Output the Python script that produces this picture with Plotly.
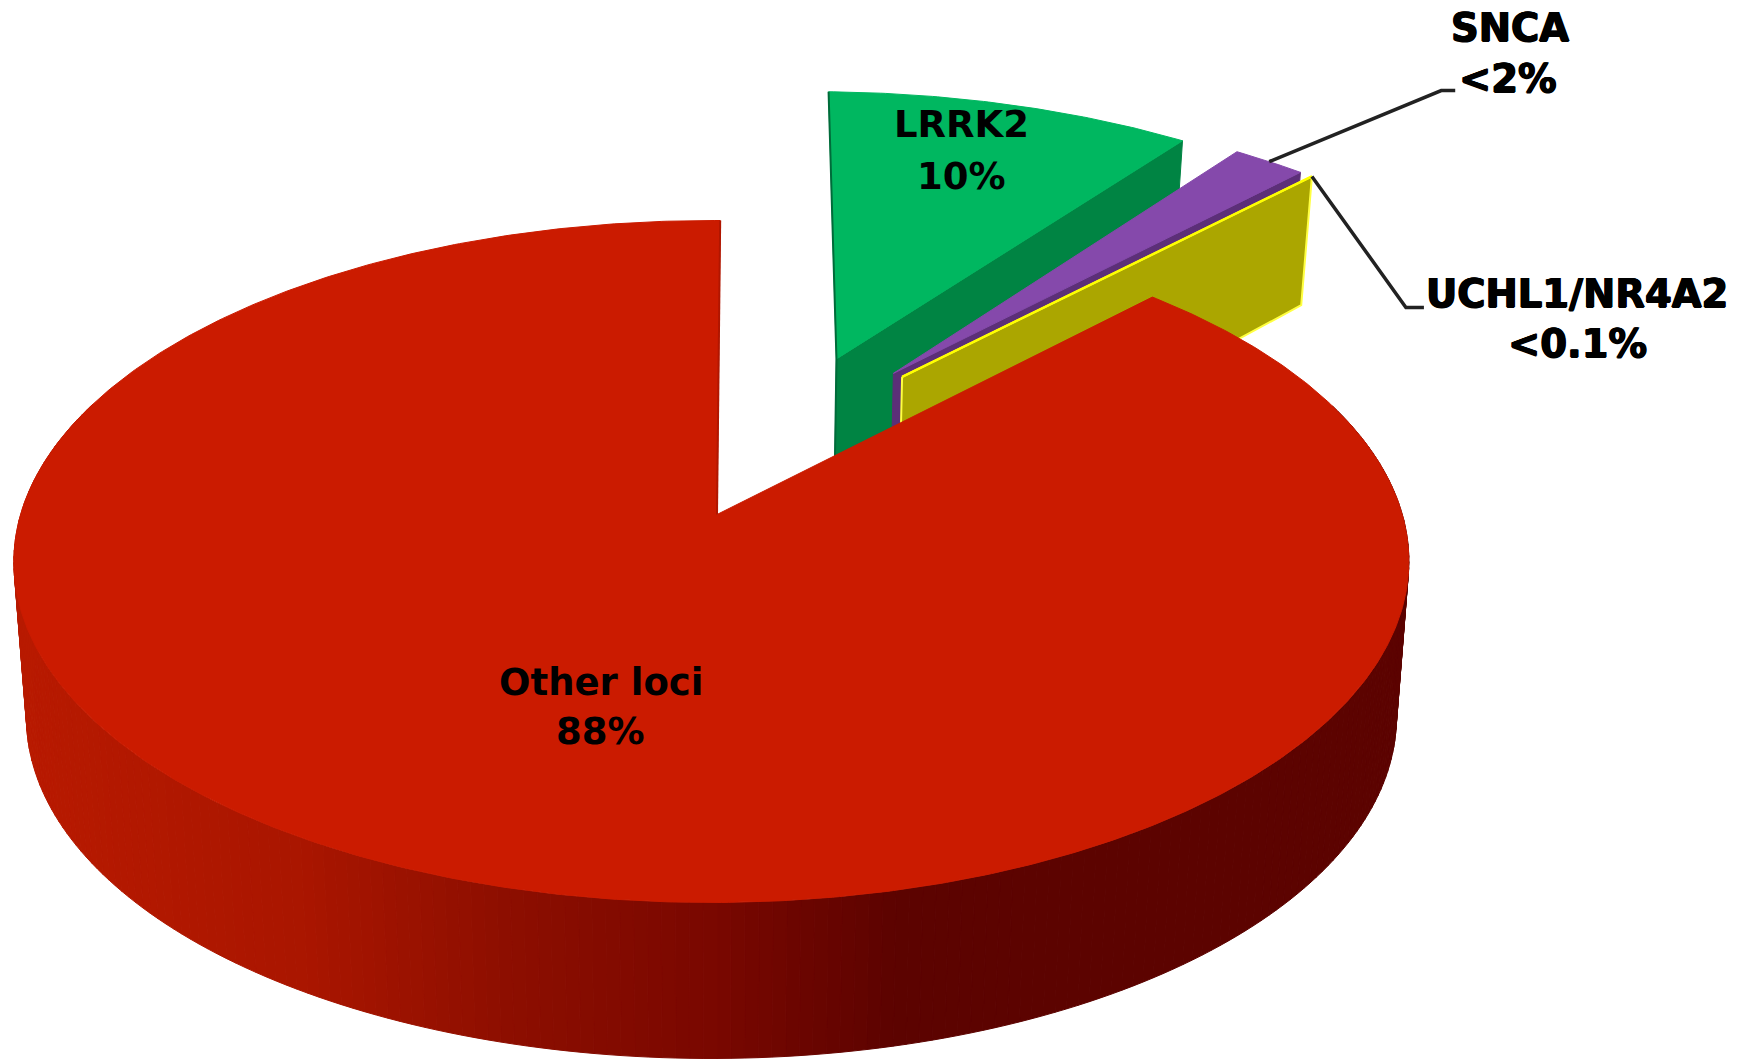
import math
import plotly.graph_objects as go

# ---- data ----
gene_labels = ["LRRK2", "SNCA", "UCHL1/NR4A2", "Other loci"]
percent_values = [10, 2, 0.1, 88]
percent_labels = ["10%", "<2%", "<0.1%", "88%"]

# ---- styles ----
top_colors = ["#00B760", "#8549AB", "#FFFF00", "#CB1B00"]
wall_colors = ["#008443", "#5C2F78", "#ABA600", "#B01600"]
slice_radius = [1.035, 1.04, 1.04, 1.0]
wall_stops_x = [28, 300, 500, 712, 900, 1400]
wall_stops_rgb = [(184, 26, 0), (170, 22, 0), (142, 15, 0), (122, 8, 0), (92, 3, 0), (92, 3, 0)]
label_pos = {  # centre of each text line, in page pixels
    "LRRK2": (961, 124), "10%": (961, 176),
    "SNCA": (1510, 27), "<2%": (1508, 78),
    "UCHL1/NR4A2": (1577, 293), "<0.1%": (1577, 343),
    "Other loci": (601, 682), "88%": (600, 731),
}
FONT = "DejaVu Sans"
FONT_SIZE = 37
CALLOUT_SIZE = 38.5
THICK = "0.7px 0 0 #000, -0.7px 0 0 #000, 0 0.5px 0 #000, 0 -0.5px 0 #000"
callout_texts = ["SNCA", "<2%", "UCHL1/NR4A2", "<0.1%"]

# ---- projection of the pie: a unit disc seen in perspective ----
X0, Y0 = 717, 514.5    # where the main slice's apex lands
A, B, K, M = 690.8, 334.5, 0.1378, 0.008
FRONT_DEPTH, DEPTH_FALL, Z_SHRINK = 156, 23, 0.018
EXPLODE = 0.2656
START_DEG = 0.6
MAIN_END_TRIM = 0.3   # the main slice closes this many degrees short of the start


def project(x, y, z=0):
    w = 1 + K * y + M * x
    s = 1 - z * Z_SHRINK
    depth = z * (FRONT_DEPTH - DEPTH_FALL * max(y, 0))
    return X0 + s * A * x / w, Y0 - B * y / w + depth


def unit(deg):
    return math.sin(math.radians(deg)), math.cos(math.radians(deg))


total = sum(percent_values)
angles = []
a0 = START_DEG
for v in percent_values:
    a1 = a0 + v / total * 360
    angles.append((a0, a1))
    a0 = a1
angles[3] = (angles[3][0], angles[3][1] - MAIN_END_TRIM)
mids = [(s + e) / 2 for s, e in angles]
red_u = unit(mids[3])
offsets = []
for m in mids:
    u = unit(m)
    offsets.append((EXPLODE * (u[0] - red_u[0]), EXPLODE * (u[1] - red_u[1])))


def rim(i, deg, z=0):
    u = unit(deg)
    r = slice_radius[i]
    return project(offsets[i][0] + r * u[0], offsets[i][1] + r * u[1], z)


def apex(i, z=0):
    return project(offsets[i][0], offsets[i][1], z)


def poly(fig, pts, fill, line=None, width=1):
    xs = [p[0] for p in pts] + [pts[0][0]]
    ys = [p[1] for p in pts] + [pts[0][1]]
    fig.add_trace(go.Scatter(x=xs, y=ys, mode="lines", fill="toself", fillcolor=fill,
                             line=dict(color=line or fill, width=width),
                             hoverinfo="skip", showlegend=False))


def path(fig, pts, color, width):
    fig.add_trace(go.Scatter(x=[p[0] for p in pts], y=[p[1] for p in pts], mode="lines",
                             line=dict(color=color, width=width),
                             hoverinfo="skip", showlegend=False))


def top_face(i, step=0.5):
    s, e = angles[i]
    n = max(2, int((e - s) / step))
    return [apex(i)] + [rim(i, s + (e - s) * t / n) for t in range(n + 1)]


def wall_color(x):
    if x <= wall_stops_x[0]:
        c = wall_stops_rgb[0]
    else:
        c = wall_stops_rgb[-1]
        for j in range(len(wall_stops_x) - 1):
            if wall_stops_x[j] <= x <= wall_stops_x[j + 1]:
                t = (x - wall_stops_x[j]) / (wall_stops_x[j + 1] - wall_stops_x[j])
                p, q = wall_stops_rgb[j], wall_stops_rgb[j + 1]
                c = tuple(p[n] + (q[n] - p[n]) * t for n in range(3))
                break
    return "rgb(%d,%d,%d)" % c


fig = go.Figure()

# Green slice
i = 0
s, e = angles[i]
poly(fig, [apex(i), rim(i, e), rim(i, e, 1), apex(i, 1)], wall_colors[i])
poly(fig, top_face(i), top_colors[i])
path(fig, [rim(i, s), apex(i), apex(i, 1)], "#006B3A", 2)

# Purple slice
i = 1
s, e = angles[i]
poly(fig, [apex(i), rim(i, e), rim(i, e, 1), apex(i, 1)], wall_colors[i])
poly(fig, top_face(i), top_colors[i])

# Yellow slice
i = 2
s, e = angles[i]
poly(fig, [apex(i), rim(i, e), rim(i, e, 1), apex(i, 1)], wall_colors[i], "#FFFF40", 2)
path(fig, [apex(i), rim(i, e)], top_colors[i], 2.5)

# Main slice: the rounded side, shaded strip by strip, then the top
i = 3
s, e = angles[i]
strip = 1.0
deg = 70.0
while deg < 290:
    q = [rim(i, deg), rim(i, deg + strip), rim(i, deg + strip, 1), rim(i, deg, 1)]
    poly(fig, q, wall_color((q[0][0] + q[1][0]) / 2))
    deg += strip
poly(fig, top_face(i), top_colors[i])
path(fig, [rim(i, e), apex(i)], wall_colors[3], 2)

# Leader lines
snca_start = rim(1, mids[1])
snca_elbow = (snca_start[0] + 172, snca_start[1] - 71)
path(fig, [snca_start, snca_elbow, (snca_elbow[0] + 14, snca_elbow[1])], "#222222", 3.5)
uchl_start = rim(2, angles[2][1])
uchl_elbow = (uchl_start[0] + 94, uchl_start[1] + 131)
path(fig, [uchl_start, uchl_elbow, (uchl_elbow[0] + 18, uchl_elbow[1])], "#222222", 3.5)

# Text
for text in gene_labels + percent_labels:
    x, y = label_pos[text]
    is_callout = text in callout_texts
    fig.add_annotation(x=x, y=y, xref="x", yref="y", text="<b>%s</b>" % text.replace("<", "&lt;"),
                       showarrow=False, xanchor="center", yanchor="middle",
                       font=dict(family=FONT, size=CALLOUT_SIZE if is_callout else FONT_SIZE,
                                 color="#000000", shadow=THICK if is_callout else "none"))

fig.update_layout(
    width=1748, height=1060, margin=dict(l=0, r=0, t=0, b=0),
    paper_bgcolor="white", plot_bgcolor="white", showlegend=False,
    xaxis=dict(range=[0, 1748], visible=False, fixedrange=True),
    yaxis=dict(range=[1060, 0], visible=False, fixedrange=True),
)
fig.write_html("out.html", config={"displayModeBar": False},
               post_script="document.body.style.margin='0';document.body.style.overflow='hidden';")
